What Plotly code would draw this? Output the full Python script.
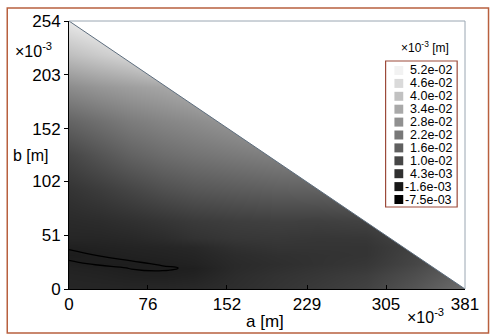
import plotly.graph_objects as go

# ---------------- data ----------------
A_MAX = 381   # x10^-3 m
B_MAX = 254   # x10^-3 m

a_grid = [0, 30, 60, 90, 120, 160, 200, 240, 286, 333, 381]
b_grid = [0, 12, 20, 24, 32, 40, 48, 64, 95, 127, 159, 191, 222, 254]

# field values (x10^-3 m), rows follow b_grid, columns follow a_grid
z_b000 = [0.0018, 0.0018, 0.0018, 0.0020, 0.0025, 0.0038, 0.0053, 0.0068, 0.0087, 0.0134, 0.0195]
z_b012 = [0.0014, 0.0011, 0.0006, 0.0004, 0.0010, 0.0033, 0.0048, 0.0060, 0.0077, 0.0117, 0.0171]
z_b020 = [0.0009, 0.0005, -0.0001, -0.0002, 0.0002, 0.0028, 0.0041, 0.0053, 0.0065, 0.0105, 0.0159]
z_b024 = [0.0004, -0.0003, -0.0003, 0.0002, 0.0008, 0.0028, 0.0038, 0.0048, 0.0060, 0.0097, 0.0146]
z_b032 = [-0.0006, 0.00005, 0.0006, 0.0010, 0.0015, 0.0033, 0.0043, 0.0048, 0.0053, 0.0092, 0.0134]
z_b040 = [0.0003, 0.0008, 0.0012, 0.0016, 0.0022, 0.0043, 0.0053, 0.0053, 0.0053, 0.0085, 0.0134]
z_b048 = [0.0018, 0.0018, 0.0023, 0.0033, 0.0048, 0.0060, 0.0063, 0.0058, 0.0060, 0.0097, 0.0146]
z_b064 = [0.0028, 0.0033, 0.0043, 0.0055, 0.0068, 0.0077, 0.0082, 0.0080, 0.0087, 0.0122, 0.0159]
z_b095 = [0.0053, 0.0073, 0.0097, 0.0122, 0.0139, 0.0151, 0.0161, 0.0166, 0.0183, 0.0195, 0.0208]
z_b127 = [0.0097, 0.0132, 0.0166, 0.0191, 0.0208, 0.0225, 0.0240, 0.0257, 0.0282, 0.0282, 0.0282]
z_b159 = [0.0171, 0.0200, 0.0230, 0.0252, 0.0269, 0.0294, 0.0331, 0.0368, 0.0368, 0.0368, 0.0368]
z_b191 = [0.0269, 0.0294, 0.0314, 0.0331, 0.0355, 0.0417, 0.0454, 0.0454, 0.0454, 0.0454, 0.0454]
z_b222 = [0.0392, 0.0424, 0.0454, 0.0503, 0.0503, 0.0503, 0.0503, 0.0503, 0.0503, 0.0503, 0.0503]
z_b254 = [0.0495, 0.0527, 0.0527, 0.0527, 0.0527, 0.0527, 0.0527, 0.0527, 0.0527, 0.0527, 0.0527]

Z_MIN = -0.0075
Z_MAX = 0.052
CONTOUR_LEVEL = 0.0

x_tick_vals = [0, 76, 152, 229, 305, 381]
y_tick_vals = [0, 51, 102, 152, 203, 254]

legend_values = [0.052, 0.046, 0.040, 0.034, 0.028, 0.022, 0.016, 0.010, 0.0043, -0.0016, -0.0075]
legend_labels = ["5.2e-02", "4.6e-02", "4.0e-02", "3.4e-02", "2.8e-02", "2.2e-02",
                 "1.6e-02", "1.0e-02", "4.3e-03", "-1.6e-03", "-7.5e-03"]

# ---------------- figure ----------------
z = [z_b000, z_b012, z_b020, z_b024, z_b032, z_b040, z_b048, z_b064,
     z_b095, z_b127, z_b159, z_b191, z_b222, z_b254]

TOP_GRAY = 242
colorscale = [[0, "rgb(0,0,0)"], [1, f"rgb({TOP_GRAY},{TOP_GRAY},{TOP_GRAY})"]]

def gray_of(v):
    t = (v - Z_MIN) / (Z_MAX - Z_MIN)
    t = min(max(t, 0), 1)
    g = round(TOP_GRAY * t)
    return f"rgb({g},{g},{g})"

FONT = "Liberation Sans, Arial, sans-serif"
W, H = 491, 334
L, R, T, B = 69, 18, 21, 45
PW, PH = W - L - R, H - T - B

def px(x):
    return (x - L) / PW

def py(y):
    return (H - B - y) / PH

fig = go.Figure()

fig.add_trace(go.Heatmap(
    x=a_grid, y=b_grid, z=z, zsmooth="best",
    colorscale=colorscale, zmin=Z_MIN, zmax=Z_MAX,
    showscale=False, hoverinfo="skip",
))

fig.add_trace(go.Contour(
    x=a_grid, y=b_grid, z=z,
    autocontour=False,
    contours=dict(start=CONTOUR_LEVEL, end=CONTOUR_LEVEL, size=0.001, coloring="none"),
    line=dict(color="black", width=1.3, smoothing=1.3),
    showscale=False, hoverinfo="skip",
))

# mask outside the triangle a/A_MAX + b/B_MAX <= 1
pad = 0.1
fig.add_trace(go.Scatter(
    x=[0, A_MAX, A_MAX * (1 + pad), A_MAX * (1 + pad), 0],
    y=[B_MAX, 0, 0, B_MAX * (1 + pad), B_MAX * (1 + pad)],
    fill="toself", fillcolor="white", mode="lines",
    line=dict(color="white", width=0), hoverinfo="skip", showlegend=False,
))

fig.add_trace(go.Scatter(
    x=[0, A_MAX], y=[B_MAX, 0], mode="lines",
    line=dict(color="#5d6d7d", width=1), hoverinfo="skip", showlegend=False,
))

axis_common = dict(showgrid=False, zeroline=False, showline=True, linecolor="black",
                   linewidth=1, tickcolor="black", tickwidth=1,
                   tickfont=dict(family=FONT, size=17, color="black"))

fig.update_layout(
    width=W, height=H,
    margin=dict(l=L, r=R, t=T, b=B, pad=0),
    paper_bgcolor="white", plot_bgcolor="white",
    showlegend=False,
    xaxis=dict(range=[0, A_MAX], tickvals=x_tick_vals, ticktext=[str(v) for v in x_tick_vals],
               ticks="inside", ticklen=4, **axis_common),
    yaxis=dict(range=[0, B_MAX], tickvals=y_tick_vals, ticktext=[str(v) for v in y_tick_vals],
               ticks="outside", ticklen=4, **axis_common),
    font=dict(family=FONT, color="black"),
)

shapes = []
# outer frame
shapes.append(dict(type="rect", xref="paper", yref="paper",
                   x0=px(6), x1=px(497), y0=py(333), y1=py(8),
                   line=dict(color="#b8603f", width=1.5), fillcolor="rgba(0,0,0,0)", layer="above"))
# plot frame top and right
shapes.append(dict(type="line", xref="paper", yref="paper", x0=0, x1=1, y0=1, y1=1,
                   line=dict(color="#9aa6b2", width=1), layer="above"))
shapes.append(dict(type="line", xref="paper", yref="paper", x0=1, x1=1, y0=0, y1=1,
                   line=dict(color="#9aa6b2", width=1), layer="above"))

# legend box
box_l, box_r, box_t, box_b = 392, 465, 61, 207
shapes.append(dict(type="rect", xref="paper", yref="paper",
                   x0=px(box_l), x1=px(box_r), y0=py(box_b), y1=py(box_t),
                   line=dict(color="#9c4a3a", width=1.2), fillcolor="white", layer="above"))

annotations = []
row0, step = 70.5, 12.9
sw = 9
for i, (v, lab) in enumerate(zip(legend_values, legend_labels)):
    yc = row0 + i * step
    shapes.append(dict(type="rect", xref="paper", yref="paper",
                       x0=px(401), x1=px(401 + sw), y0=py(yc + sw / 2), y1=py(yc - sw / 2),
                       line=dict(width=0), fillcolor=gray_of(v), layer="above"))
    annotations.append(dict(x=px(461), y=py(yc), xref="paper", yref="paper",
                            text=lab, showarrow=False, xanchor="right", yanchor="middle",
                            borderpad=0,
                            font=dict(family=FONT, size=12.5, color="black")))

annotations.append(dict(x=px(432), y=py(47), xref="paper", yref="paper",
                        text="×10<sup>-3</sup> [m]", showarrow=False,
                        xanchor="center", yanchor="middle",
                        font=dict(family=FONT, size=12, color="black")))
annotations.append(dict(x=px(33), y=py(50), xref="paper", yref="paper",
                        text="×10<sup>-3</sup>", showarrow=False,
                        xanchor="center", yanchor="middle",
                        font=dict(family=FONT, size=16, color="black")))
annotations.append(dict(x=px(433), y=py(316), xref="paper", yref="paper",
                        text="×10<sup>-3</sup>", showarrow=False,
                        xanchor="center", yanchor="middle",
                        font=dict(family=FONT, size=16, color="black")))
annotations.append(dict(x=px(269), y=py(321), xref="paper", yref="paper",
                        text="a [m]", showarrow=False, xanchor="center", yanchor="middle",
                        font=dict(family=FONT, size=17, color="black")))
annotations.append(dict(x=px(30), y=py(155), xref="paper", yref="paper",
                        text="b [m]", showarrow=False, xanchor="center", yanchor="middle",
                        font=dict(family=FONT, size=16, color="black")))

fig.update_layout(shapes=shapes, annotations=annotations)

fig.write_html("out.html")
